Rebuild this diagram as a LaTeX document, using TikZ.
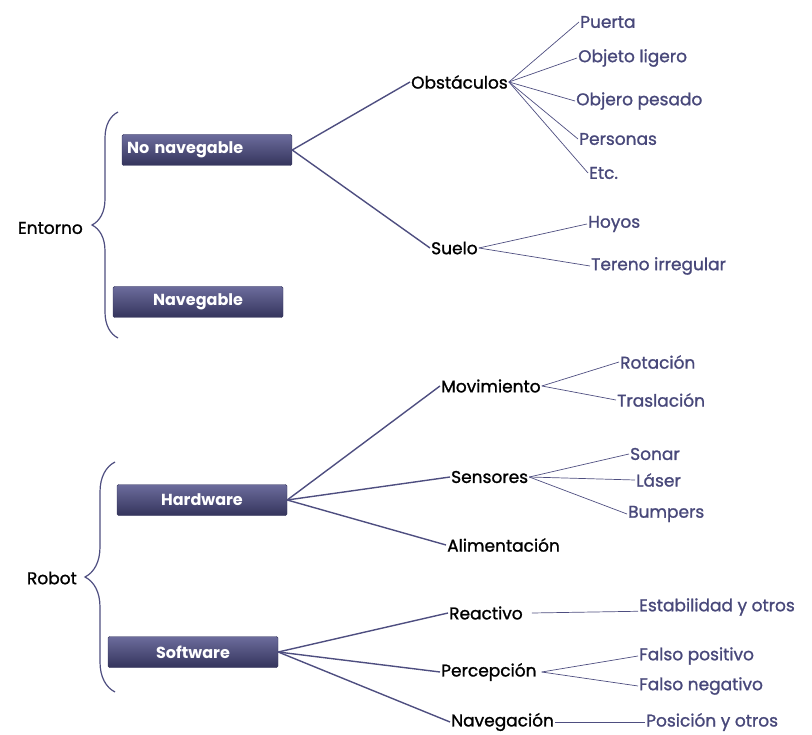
\documentclass[tikz,border=0pt]{standalone}
\usepackage{fontspec}
\setmainfont{Poppins}
\newfontfamily\medfont{Poppins}[FakeBold=1.2]
\usetikzlibrary{positioning,decorations.pathreplacing}
\definecolor{boxdark}{RGB}{52,52,92}
\definecolor{boxlight}{RGB}{108,108,156}
\definecolor{linecol}{RGB}{78,78,128}
\definecolor{leafcol}{RGB}{72,72,122}

\begin{document}
\begin{tikzpicture}[
    x=1pt, y=-1pt,
    group/.style={font=\medfont\fontsize{17}{19}\selectfont, text=black, inner sep=1pt},
    catbox/.style={rectangle, draw=boxdark, top color=boxlight, bottom color=boxdark, rounded corners=1.5pt, text width=160pt, inner xsep=5pt, minimum height=31pt, align=center, text=white, font=\fontsize{16}{18}\selectfont\bfseries},
    topic/.style={font=\medfont\fontsize{17}{19}\selectfont, text=black, inner sep=1pt, anchor=west},
    leaf/.style={font=\medfont\fontsize{17}{19}\selectfont, text=leafcol, inner sep=1pt, anchor=west},
    branch/.style={draw=linecol, line width=1.4pt},
    twig/.style={draw=linecol, line width=0.7pt},
    bracket/.style={draw=linecol, line width=1.2pt, decorate, decoration={brace, amplitude=26pt}}
]
    \useasboundingbox (0,0) rectangle (812,735);

    % Entorno
    \node[group, anchor=east] (entorno) at (84,228) {Entorno};
    \coordinate (ebot) at (118,338);
    \coordinate (etop) at (118,112);
    \draw[bracket] (ebot) -- (etop);

    \node[catbox, align=left] (nonav) at (207,150) {No navegable};
    \node[catbox] (nav) at (198,302) {Navegable};

    \node[topic] (obst) at (410,82) {Obstáculos};
    \node[topic] (suelo) at (430,248) {Suelo};
    \draw[branch] (nonav.east) -- (obst.west);
    \draw[branch] (nonav.east) -- (suelo.west);

    \node[leaf] (puerta) at (579,22) {Puerta};
    \node[leaf] (ligero) at (577,58) {Objeto ligero};
    \node[leaf] (pesado) at (575,101) {Objero pesado};
    \node[leaf] (personas) at (578,139) {Personas};
    \node[leaf] (etc) at (588,173) {Etc.};
    \foreach \l in {puerta,ligero,pesado,personas,etc}
        \draw[twig] (obst.east) -- (\l.west);

    \node[leaf] (hoyos) at (587,224) {Hoyos};
    \node[leaf] (tereno) at (590,266) {Tereno irregular};
    \foreach \l in {hoyos,tereno}
        \draw[twig] (suelo.east) -- (\l.west);

    % Robot
    \node[group, anchor=east] (robot) at (78,578) {Robot};
    \coordinate (rbot) at (115,692);
    \coordinate (rtop) at (115,462);
    \draw[bracket, decoration={amplitude=30pt}] (rbot) -- (rtop);

    \node[catbox] (hw) at (202,500) {Hardware};
    \node[catbox] (sw) at (193,652) {Software};

    \node[topic] (mov) at (440,386) {Movimiento};
    \node[topic] (sens) at (450,477) {Sensores};
    \node[topic] (alim) at (446,545) {Alimentación};
    \foreach \t in {mov,sens,alim}
        \draw[branch] (hw.east) -- (\t.west);

    \node[leaf] (rot) at (619,362) {Rotación};
    \node[leaf] (tras) at (616,400) {Traslación};
    \foreach \l in {rot,tras}
        \draw[twig] (mov.east) -- (\l.west);

    \node[leaf] (sonar) at (629,454) {Sonar};
    \node[leaf] (laser) at (635,480) {Láser};
    \node[leaf] (bump) at (627,514) {Bumpers};
    \foreach \l in {sonar,laser,bump}
        \draw[twig] (sens.east) -- (\l.west);

    \node[topic] (react) at (448,613) {Reactivo};
    \node[topic] (percep) at (440,672) {Percepción};
    \node[topic] (naveg) at (450,722) {Navegación};
    \foreach \t in {react,percep,naveg}
        \draw[branch] (sw.east) -- (\t.west);

    \node[leaf] (estab) at (638,607) {Estabilidad y otros};
    \draw[twig] ([xshift=8pt]react.east) -- (estab.base west);

    \node[leaf] (fpos) at (638,656) {Falso positivo};
    \node[leaf] (fneg) at (638,686) {Falso negativo};
    \foreach \l in {fpos,fneg}
        \draw[twig] ([xshift=4pt]percep.east) -- (\l.west);

    \node[leaf] (posic) at (645,722) {Posición y otros};
    \draw[twig] (naveg.east) -- (posic.west);
\end{tikzpicture}
\end{document}
